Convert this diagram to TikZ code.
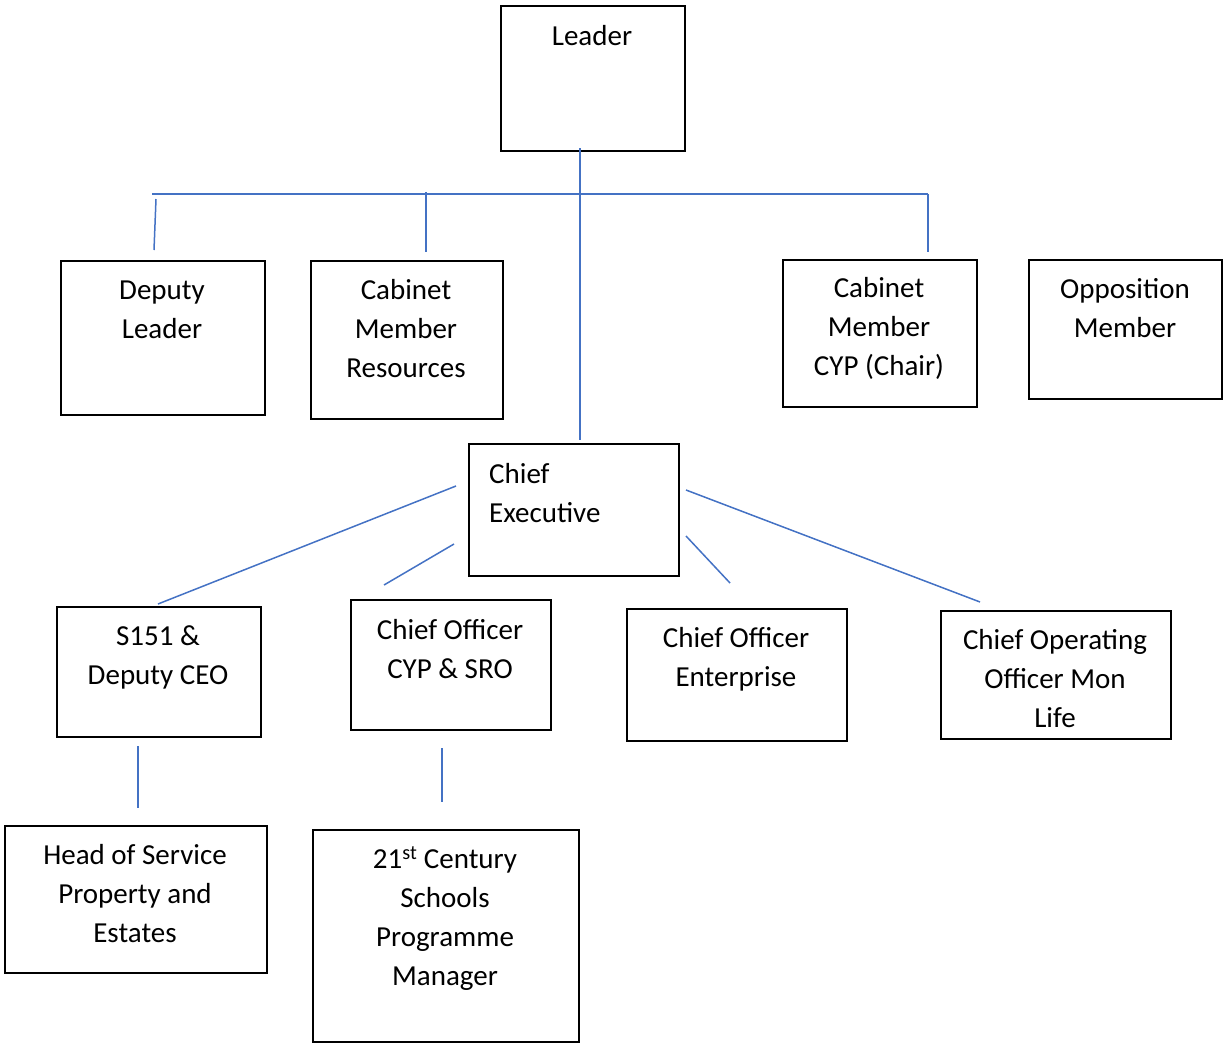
\documentclass[tikz,border=0pt]{standalone}
\usepackage{fontspec}
\setmainfont{Carlito}
\definecolor{linkblue}{HTML}{4472C4}
\begin{document}
\begin{tikzpicture}[x=1pt,y=-1pt,
  box/.style={draw=black, line width=2pt, anchor=north west, inner sep=0pt},
  txt/.style={font=\fontsize{29}{39}\selectfont, align=center, inner sep=0pt},
  link/.style={draw=linkblue, line width=1.5pt}]
\useasboundingbox (0,0) rectangle (1223,1044);
% boxes
\node[box, minimum width=184pt, minimum height=145pt] (leader) at (499.5,4.5) {};
\node[box, minimum width=204pt, minimum height=154pt] (deputy) at (59.5,259.5) {};
\node[box, minimum width=192pt, minimum height=158pt] (resources) at (309.5,259.5) {};
\node[box, minimum width=194pt, minimum height=147pt] (cyp) at (781.5,258.5) {};
\node[box, minimum width=193pt, minimum height=139pt] (opp) at (1027.5,258.5) {};
\node[box, minimum width=210pt, minimum height=132pt] (ceo) at (467.5,442.5) {};
\node[box, minimum width=204pt, minimum height=130pt] (s151) at (55.5,605.5) {};
\node[box, minimum width=200pt, minimum height=130pt] (cosro) at (349.5,598.5) {};
\node[box, minimum width=220pt, minimum height=132pt] (coent) at (625.5,607.5) {};
\node[box, minimum width=230pt, minimum height=128pt] (coo) at (939.5,609.5) {};
\node[box, minimum width=262pt, minimum height=147pt] (hos) at (3.5,824.5) {};
\node[box, minimum width=266pt, minimum height=212pt] (pm) at (311.5,828.5) {};
% texts
\node[txt] (tleader) at (592,36) {Leader};
\node[txt] (tdeputy) at (162,310) {Deputy\\Leader};
\node[txt] (tres) at (406,329) {Cabinet\\Member\\Resources};
\node[txt] (tcyp) at (879,328.5) {Cabinet\\Member\\CYP (Chair)};
\node[txt] (topp) at (1125,308) {Opposition\\Member};
\node[txt, align=left, anchor=west] (tceo) at (489,493) {Chief\\Executive};
\node[txt] (ts151) at (158,657) {S151 \&\\Deputy CEO};
\node[txt] (tcosro) at (450,649) {Chief Officer\\CYP \& SRO};
\node[txt] (tcoent) at (736,659) {Chief Officer\\Enterprise};
\node[txt] (tcoo) at (1055,679) {Chief Operating\\Officer Mon\\Life};
\node[txt] (thos) at (135,894) {Head of Service\\Property and\\Estates};
\node[txt] (tpm) at (445,919) {21\textsuperscript{st} Century\\Schools\\Programme\\Manager};
% connector end points
\coordinate (a1) at (580,148);
\coordinate (a2) at (580,440);
\coordinate (h1) at (152,194);
\coordinate (h2) at (928,194);
\coordinate (d1) at (156,199);
\coordinate (d2) at (154,250);
\coordinate (r1) at (426,192);
\coordinate (r2) at (426,252);
\coordinate (c1) at (928,194);
\coordinate (c2) at (928,252);
\coordinate (e1) at (456,486);
\coordinate (e2) at (158,604);
\coordinate (f1) at (454,544);
\coordinate (f2) at (384,585);
\coordinate (g1) at (686,536);
\coordinate (g2) at (730,583);
\coordinate (k1) at (686,490);
\coordinate (k2) at (980,602);
\coordinate (m1) at (138,746);
\coordinate (m2) at (138,808);
\coordinate (n1) at (442,748);
\coordinate (n2) at (442,802);
% connectors
\draw[link] (a1) -- (a2);
\draw[link] (h1) -- (h2);
\draw[link] (d1) -- (d2);
\draw[link] (r1) -- (r2);
\draw[link] (c1) -- (c2);
\draw[link] (e1) -- (e2);
\draw[link] (f1) -- (f2);
\draw[link] (g1) -- (g2);
\draw[link] (k1) -- (k2);
\draw[link] (m1) -- (m2);
\draw[link] (n1) -- (n2);
\end{tikzpicture}
\end{document}
